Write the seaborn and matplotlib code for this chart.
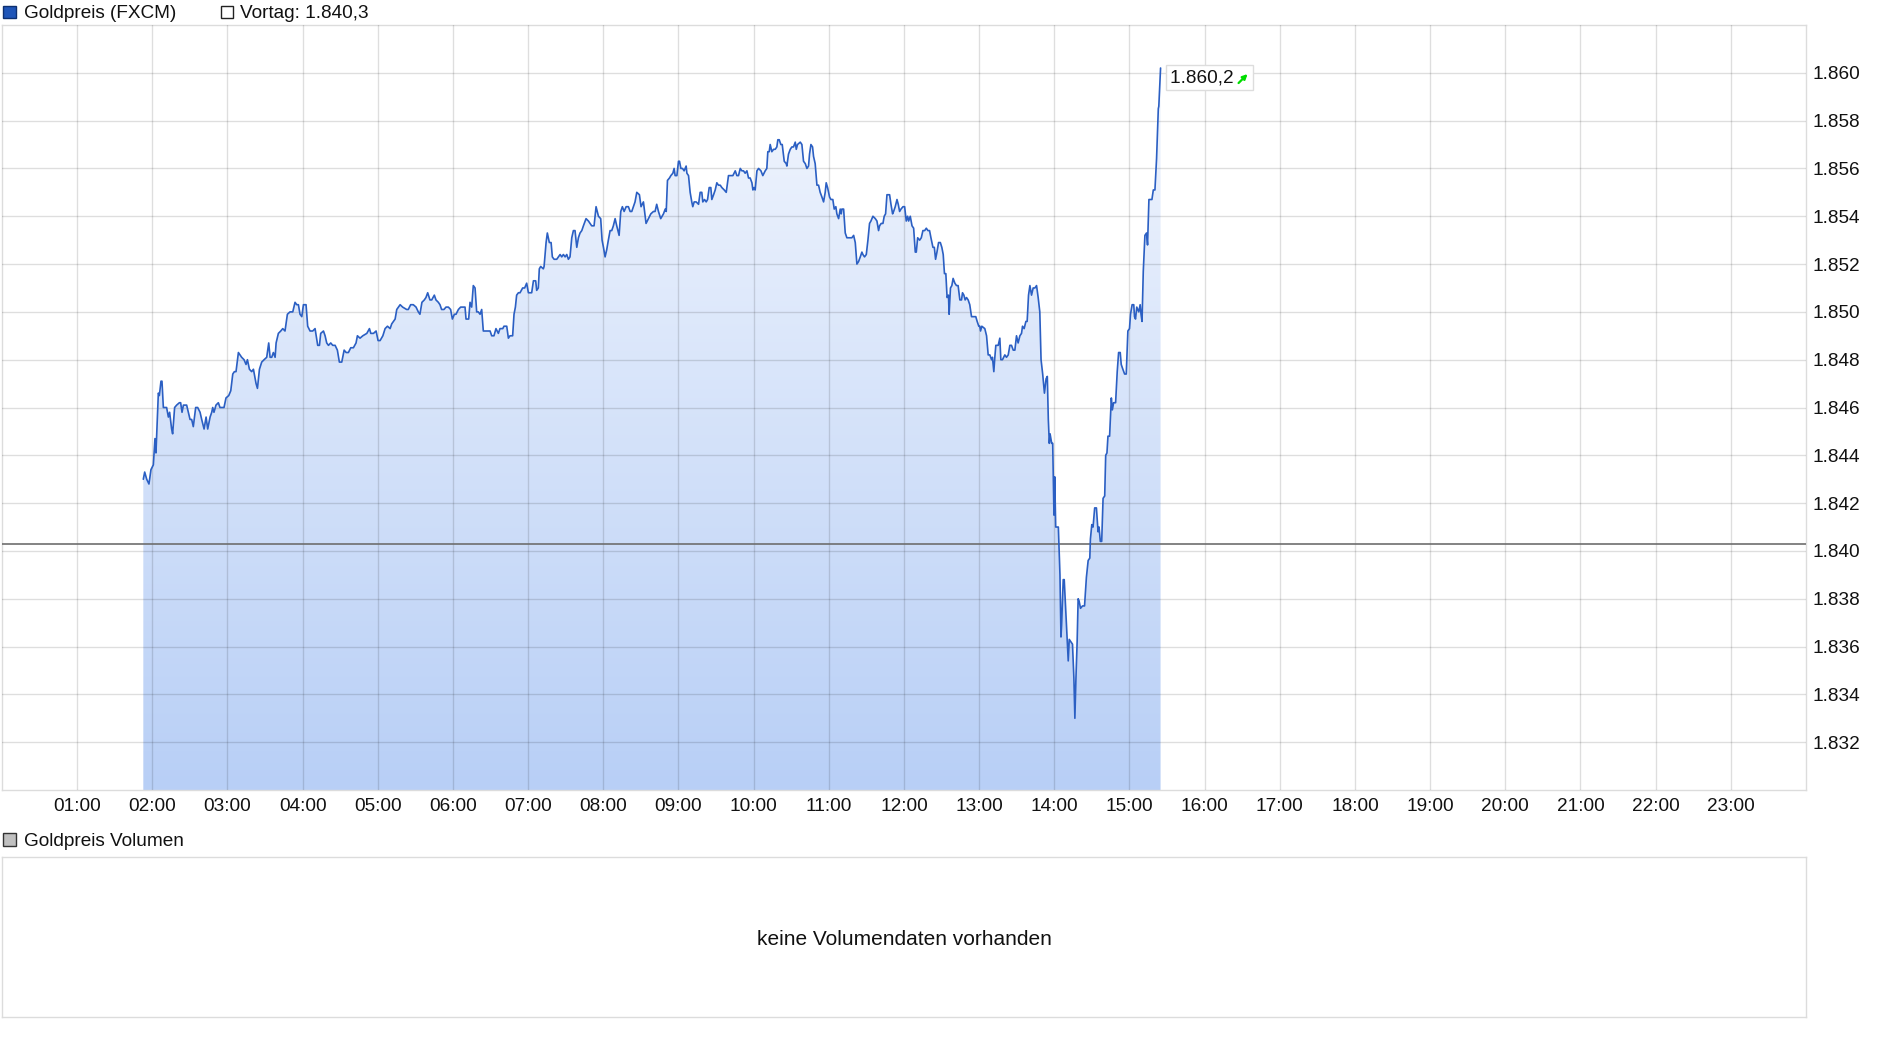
#!/usr/bin/env python3
"""Goldpreis (FXCM) intraday chart with Vortag reference line and empty volume panel."""

import numpy as np
import pandas as pd
import matplotlib
matplotlib.use("Agg")
import matplotlib.pyplot as plt
from matplotlib.patches import Rectangle
from matplotlib.colors import LinearSegmentedColormap
from matplotlib.transforms import offset_copy
import seaborn as sns

# %% Data: minutes after midnight and gold price (USD)
trade_minute = [
    112.8, 113.9, 115.5, 117.3, 118.9, 120.8, 122.1, 122.9, 124.8, 125.6, 126.9, 127.7, 128.8, 131.4,
    132.8, 133.8, 135.4, 136.2, 137.8, 139.4, 141.6, 142.6, 143.7, 144.8, 147.4, 150.1, 151.4, 152.7,
    154.6, 156.2, 158.1, 159.4, 161.3, 162.9, 164.2, 166.1, 167.4, 168.2, 169.2, 170.8, 172.7, 174.0,
    177.2, 178.8, 181.0, 182.6, 184.2, 185.5, 186.8, 188.7, 190.0, 191.3, 193.2, 194.8, 195.9, 197.5,
    199.3, 200.7, 202.8, 203.9, 205.5, 207.3, 209.2, 211.3, 212.9, 214.0, 215.3, 216.6, 218.0, 218.8,
    220.6, 222.5, 224.1, 225.9, 227.8, 229.9, 232.1, 233.9, 235.3, 236.6, 237.9, 239.3, 240.6, 242.7,
    244.0, 245.9, 248.0, 249.9, 252.0, 253.4, 254.4, 256.6, 257.9, 259.2, 260.6, 262.4, 264.0, 265.9,
    267.7, 269.3, 271.2, 273.1, 274.7, 276.5, 278.4, 280.5, 282.6, 283.7, 285.8, 288.0, 291.2, 293.3,
    294.4, 296.5, 298.6, 300.2, 301.8, 304.0, 305.8, 307.7, 309.8, 311.1, 313.8, 315.1, 316.5, 317.8,
    319.8, 323.0, 324.3, 326.2, 328.3, 330.5, 332.3, 333.6, 335.2, 337.1, 338.4, 339.8, 341.6, 343.0,
    345.1, 346.4, 348.3, 349.6, 350.9, 352.8, 354.4, 356.3, 358.1, 359.5, 361.1, 362.4, 364.3, 366.1,
    368.3, 369.6, 370.4, 372.5, 373.6, 374.9, 376.2, 377.6, 378.9, 380.2, 381.6, 382.9, 384.2, 385.6,
    388.2, 389.6, 390.9, 392.7, 394.3, 396.2, 397.5, 399.7, 400.7, 402.9, 404.2, 405.5, 407.6, 408.7,
    409.8, 410.8, 412.2, 413.5, 415.6, 417.2, 418.8, 420.2, 422.8, 424.2, 426.0, 426.8, 428.1, 428.9,
    430.0, 432.1, 432.7, 434.3, 435.3, 436.9, 438.3, 439.3, 440.7, 442.8, 444.1, 445.5, 446.8, 448.1,
    449.5, 450.8, 452.1, 453.4, 454.8, 456.1, 457.4, 458.8, 460.1, 461.4, 462.8, 464.1, 466.2, 468.1,
    469.4, 470.7, 472.6, 474.2, 476.1, 477.9, 479.0, 480.1, 481.4, 482.7, 484.0, 485.4, 486.7, 488.0,
    489.4, 490.7, 492.6, 493.9, 495.2, 496.6, 498.2, 500.0, 501.4, 502.7, 504.0, 505.3, 506.7, 508.8,
    510.1, 512.0, 514.1, 516.0, 517.9, 520.0, 521.3, 522.6, 524.0, 525.8,
    528.0, 529.4, 530.2, 531.2, 532.8, 533.9, 535.5, 536.5, 537.3, 538.7, 540.0, 540.8, 541.9, 543.2,
    544.5, 546.1, 546.7, 548.0, 549.3, 550.6, 551.4, 552.5, 554.1, 556.0, 557.3, 558.6, 559.4, 560.8,
    562.1, 563.2, 564.5, 565.8, 566.6, 568.0, 569.3, 570.6, 571.9, 573.3, 574.6, 576.5, 578.1, 579.9,
    581.8, 583.4, 585.3, 586.6, 587.9, 589.3, 590.6, 591.9, 593.2, 594.6, 595.9, 597.2, 598.6, 599.4,
    600.4, 601.2, 602.6, 603.9, 605.8, 607.3, 609.2, 610.5, 611.3, 612.4, 613.2, 614.5, 615.9, 617.2,
    618.5, 619.3, 620.4, 621.7, 622.8, 624.4, 626.0, 626.5, 627.8, 629.2, 630.5, 631.8, 633.2, 634.0,
    635.0, 637.2, 638.5, 639.8, 641.2, 642.5, 643.8, 644.6, 645.7, 647.0, 647.8, 649.1, 650.5, 651.8,
    653.1, 654.5, 655.8, 657.1, 657.9, 659.0, 660.6, 661.7, 663.2, 664.3, 665.6, 666.4, 667.8, 669.1,
    669.9, 670.4, 671.8, 673.1, 674.4, 676.6, 678.4, 679.8, 681.1, 682.4, 683.7, 685.1, 686.4, 687.2,
    688.5, 689.9, 691.2, 692.5, 693.6, 695.2, 697.1, 698.4, 699.7, 700.5, 701.8, 703.2, 704.2, 705.3,
    706.4, 708.5, 709.6, 710.9, 711.7, 713.0, 714.4, 715.4, 716.5, 717.6, 719.2, 720.5, 721.8, 722.9,
    723.7, 725.0, 726.4, 727.7, 729.0, 729.8, 730.9, 732.5, 733.8, 735.1, 736.5, 737.8, 739.1, 740.4,
    741.5, 743.1, 744.2, 745.2, 746.3, 747.6, 749.0,
    750.2, 751.3, 752.3, 753.4, 754.4, 755.5, 756.0, 757.1, 758.2, 759.2, 760.6, 761.9, 763.2, 764.6,
    765.9, 766.7, 767.8, 768.8, 769.9, 771.2, 772.5, 773.9, 775.7, 777.3, 778.4, 779.7, 780.5, 781.1,
    782.1, 784.5, 785.9, 787.2, 788.5, 789.9, 790.6, 791.7, 792.5, 793.3, 795.2, 796.5, 797.3, 798.6,
    800.5, 801.8, 803.2, 804.5, 805.8, 807.2, 808.5, 809.8, 811.1, 812.5, 813.8, 814.6, 815.9, 817.3,
    818.3, 819.4, 820.5, 821.8, 823.1, 824.5, 825.8, 827.1, 828.4,
    829.4, 830.7, 832.1, 833.4, 834.4, 835.2, 836.0, 836.6, 837.9, 838.7, 839.2, 839.7, 840.3, 841.1,
    843.2, 844.5, 845.3, 845.8, 847.1, 847.9, 849.0, 849.8, 851.1, 851.9, 853.2, 854.5, 855.6, 856.4,
    857.2, 858.2, 859.0, 859.8, 860.9, 862.5, 864.1, 865.6, 867.0, 868.3, 868.8, 869.9, 870.9, 872.2,
    873.6, 874.9, 875.7, 876.7, 877.8, 878.9, 880.2, 881.0, 882.0, 882.8, 884.1, 885.5, 886.3, 887.3,
    888.9, 890.2, 891.3, 892.6, 893.4, 894.7, 896.1, 897.4, 898.7, 900.0, 900.8, 902.1, 903.4, 904.0,
    904.8, 905.8, 907.4, 908.5, 909.2, 910.0,
    911.0, 912.3, 913.6, 914.4, 915.5, 916.8, 917.9, 919.0, 920.3, 921.6, 923.0, 923.4, 924.8,
]
goldpreis = [
    1843.0, 1843.3, 1843.0, 1842.8, 1843.4, 1843.6, 1844.7, 1844.1, 1846.6, 1846.5, 1847.1, 1847.1, 1846.0, 1846.0,
    1845.6, 1845.8, 1845.1, 1844.9, 1846.0, 1846.1, 1846.2, 1846.2, 1845.8, 1846.1, 1846.1, 1845.5, 1845.5, 1845.2,
    1846.0, 1846.0, 1845.8, 1845.5, 1845.1, 1845.6, 1845.1, 1845.6, 1845.8, 1846.0, 1845.8, 1846.1, 1846.2, 1846.0,
    1846.0, 1846.4, 1846.5, 1846.7, 1847.4, 1847.5, 1847.5, 1848.3, 1848.2, 1848.1, 1848.0, 1847.8, 1848.0, 1847.6,
    1847.5, 1847.6, 1847.0, 1846.8, 1847.6, 1847.9, 1848.0, 1848.1, 1848.7, 1848.1, 1848.1, 1848.3, 1848.1, 1848.7,
    1849.1, 1849.2, 1849.3, 1849.2, 1849.9, 1850.0, 1850.0, 1850.4, 1850.3, 1850.3, 1849.9, 1849.8, 1850.3, 1850.3,
    1849.4, 1849.2, 1849.2, 1849.3, 1848.6, 1848.6, 1849.1, 1849.2, 1849.0, 1848.7, 1848.6, 1848.7, 1848.6, 1848.6,
    1848.4, 1847.9, 1847.9, 1848.4, 1848.3, 1848.3, 1848.5, 1848.5, 1848.7, 1849.0, 1848.9, 1849.0, 1849.1, 1849.3,
    1849.1, 1849.1, 1849.2, 1848.8, 1848.8, 1849.0, 1849.3, 1849.4, 1849.3, 1849.5, 1849.7, 1850.1, 1850.2, 1850.3,
    1850.2, 1850.1, 1850.1, 1850.3, 1850.3, 1850.2, 1850.0, 1849.9, 1850.4, 1850.5, 1850.6, 1850.8, 1850.5, 1850.5,
    1850.7, 1850.5, 1850.4, 1850.3, 1850.1, 1850.1, 1850.2, 1850.2, 1850.1, 1849.7, 1849.9, 1849.9, 1850.1, 1850.2,
    1850.2, 1850.2, 1849.7, 1849.7, 1850.4, 1850.2, 1851.1, 1851.0, 1850.0, 1850.0, 1849.9, 1850.1, 1849.2, 1849.2,
    1849.2, 1849.2, 1849.0, 1849.0, 1849.3, 1849.1, 1849.3, 1849.3, 1849.4, 1849.4, 1848.9, 1849.0, 1849.0, 1849.9,
    1850.2, 1850.7, 1850.8, 1850.8, 1851.0, 1851.0, 1851.2, 1850.8, 1850.8, 1851.3, 1851.3, 1850.9, 1851.0, 1851.8,
    1851.9, 1851.8, 1851.9, 1852.9, 1853.3, 1852.9, 1852.9, 1852.3, 1852.2, 1852.2, 1852.3, 1852.4, 1852.3, 1852.4,
    1852.3, 1852.4, 1852.2, 1852.3, 1853.1, 1853.4, 1853.4, 1852.7, 1853.1, 1853.3, 1853.4, 1853.6, 1853.9, 1853.8,
    1853.7, 1853.6, 1853.6, 1854.4, 1854.0, 1853.9, 1853.0, 1852.7, 1852.3, 1852.6, 1853.0, 1853.4, 1853.4, 1853.6,
    1853.9, 1853.6, 1853.2, 1854.2, 1854.4, 1854.2, 1854.4, 1854.4, 1854.2, 1854.2, 1854.4, 1854.6, 1855.0, 1854.9,
    1854.4, 1854.6, 1853.7, 1853.9, 1854.1, 1854.2, 1854.2, 1854.5, 1854.2, 1853.9,
    1854.1, 1854.3, 1854.2, 1855.5, 1855.6, 1855.7, 1855.8, 1856.0, 1855.7, 1855.7, 1856.3, 1856.3, 1856.0, 1856.0,
    1855.9, 1856.1, 1855.8, 1855.7, 1855.0, 1854.6, 1854.4, 1854.6, 1854.6, 1854.5, 1855.0, 1855.0, 1854.6, 1854.7,
    1854.6, 1854.7, 1855.2, 1855.2, 1854.7, 1854.9, 1855.1, 1855.4, 1855.3, 1855.3, 1855.2, 1855.1, 1855.0, 1855.7,
    1855.7, 1855.7, 1855.9, 1855.7, 1855.7, 1856.0, 1855.9, 1855.9, 1855.8, 1855.9, 1855.6, 1855.6, 1855.4, 1855.1,
    1855.2, 1855.1, 1855.9, 1856.0, 1855.9, 1855.7, 1855.9, 1856.0, 1856.7, 1856.7, 1857.0, 1856.7, 1856.8, 1856.8,
    1856.9, 1857.2, 1857.2, 1857.0, 1857.0, 1856.3, 1856.2, 1856.1, 1856.6, 1856.8, 1856.9, 1856.9, 1857.1, 1856.8,
    1857.0, 1857.1, 1857.0, 1856.3, 1856.2, 1856.0, 1856.1, 1856.6, 1857.0, 1856.9, 1856.5, 1856.2, 1855.3, 1855.3,
    1855.0, 1854.8, 1854.6, 1855.0, 1855.4, 1855.2, 1854.8, 1854.7, 1854.7, 1854.3, 1854.4, 1854.1, 1853.9, 1854.3,
    1854.1, 1854.3, 1854.3, 1853.3, 1853.1, 1853.1, 1853.1, 1853.2, 1852.9, 1852.0, 1852.1, 1852.3, 1852.5, 1852.4,
    1852.3, 1852.4, 1853.0, 1853.7, 1853.8, 1854.0, 1853.9, 1853.8, 1853.4, 1853.6, 1853.7, 1853.7, 1854.0, 1854.1,
    1854.9, 1854.9, 1854.5, 1854.1, 1854.2, 1854.4, 1854.7, 1854.5, 1854.2, 1854.3, 1854.4, 1854.4, 1853.8, 1854.0,
    1853.8, 1854.0, 1853.6, 1853.5, 1852.5, 1852.5, 1853.1, 1853.0, 1853.1, 1853.4, 1853.4, 1853.5, 1853.4, 1853.4,
    1853.1, 1852.7, 1852.7, 1852.2, 1852.5, 1852.9, 1852.9,
    1852.7, 1852.4, 1851.6, 1851.6, 1850.6, 1850.7, 1849.9, 1851.0, 1851.1, 1851.4, 1851.2, 1851.1, 1851.1, 1850.5,
    1850.5, 1850.8, 1850.7, 1850.5, 1850.6, 1850.5, 1850.3, 1849.8, 1849.8, 1849.8, 1849.6, 1849.4, 1849.4, 1849.2,
    1849.4, 1849.3, 1849.0, 1848.2, 1848.2, 1848.0, 1848.1, 1847.5, 1848.1, 1848.6, 1848.6, 1848.9, 1848.0, 1848.0,
    1848.2, 1848.1, 1848.2, 1848.6, 1848.6, 1848.4, 1848.4, 1849.0, 1848.7, 1849.0, 1849.1, 1849.4, 1849.3, 1849.6,
    1849.6, 1850.7, 1851.1, 1850.7, 1851.0, 1851.0, 1851.1, 1850.6, 1850.0,
    1848.0, 1847.4, 1846.6, 1847.2, 1847.3, 1845.5, 1844.5, 1844.9, 1844.5, 1844.5, 1843.1, 1841.5, 1843.1, 1841.0,
    1841.0, 1839.0, 1836.4, 1836.9, 1838.8, 1838.8, 1837.6, 1836.7, 1835.4, 1836.3, 1836.2, 1836.1, 1834.7, 1833.0,
    1834.6, 1836.2, 1838.0, 1837.9, 1837.6, 1837.7, 1837.7, 1838.9, 1839.6, 1839.7, 1840.5, 1841.1, 1841.0, 1841.8,
    1841.8, 1840.8, 1841.0, 1840.4, 1840.4, 1842.2, 1842.3, 1844.0, 1844.1, 1844.8, 1844.8, 1846.4, 1845.9, 1846.2,
    1846.2, 1847.5, 1848.3, 1848.3, 1847.8, 1847.6, 1847.4, 1847.4, 1849.2, 1849.3, 1849.9, 1850.3, 1850.3, 1849.8,
    1849.7, 1850.2, 1850.0, 1850.3, 1849.9, 1849.6,
    1851.7, 1853.2, 1853.3, 1852.8, 1854.7, 1854.7, 1854.7, 1855.1, 1855.1, 1856.4, 1858.5, 1858.6, 1860.2,
]
vortag = 1840.3
hour_ticks = list(range(1, 24))
price_ticks = list(range(1832, 1861, 2))


def de_num(v, decimals=0):
    s = f"{v:,.{decimals}f}"
    return s.replace(",", "#").replace(".", ",").replace("#", ".")


# %% Setup
sns.set_theme(style="whitegrid")
plt.rcParams["font.family"] = ["Liberation Sans", "DejaVu Sans"]
FS = 13.7
W, H = 1880, 1037


def fig_box(l, t, r, b):
    return [l / W, 1 - b / H, (r - l) / W, (b - t) / H]


df = pd.DataFrame({"minute": trade_minute, "price": goldpreis})
df["hour"] = df["minute"] / 60

fig = plt.figure(figsize=(W / 100, H / 100), dpi=100, facecolor="white")

# %% Price panel
ax = fig.add_axes(fig_box(2, 25, 1806, 790))
ax.set_facecolor("white")

poly = ax.fill_between(df["hour"], df["price"], 1830, color="none", lw=0)
cmap = LinearSegmentedColormap.from_list("gold_fill", ["#b8cff6", "#f5f8fe"])
img = ax.imshow(np.linspace(0, 1, 256).reshape(-1, 1), extent=[0, 24, 1830, 1862],
                origin="lower", aspect="auto", cmap=cmap, zorder=1)
img.set_clip_path(poly.get_paths()[0], transform=ax.transData)

sns.lineplot(data=df, x="hour", y="price", estimator=None, sort=False,
             color="#2b5fc3", lw=1.2, ax=ax, zorder=3)
ax.axhline(vortag, color="#6e6e6e", lw=1.2, zorder=2.8)

ax.set_xlim(0, 24)
ax.set_ylim(1830, 1862)
ax.set_xticks(hour_ticks)
ax.set_xticklabels([f"{h:02d}:00" for h in hour_ticks])
ax.yaxis.tick_right()
ax.set_yticks(price_ticks)
ax.set_yticklabels([de_num(p) for p in price_ticks])
ax.set_xlabel("")
ax.set_ylabel("")
ax.tick_params(length=0, labelsize=FS, colors="#111111")
ax.tick_params(axis="x", pad=5.5)
ax.tick_params(axis="y", pad=4.5)
ax.set_axisbelow(False)
ax.grid(True, color="black", alpha=0.13, lw=1)
for sp in ax.spines.values():
    sp.set_color("#dcdcdc")
    sp.set_linewidth(1)

# last price label with green up arrow
last_h, last_p = df["hour"].iloc[-1], df["price"].iloc[-1]
ax.annotate(de_num(last_p, 1) + "   ", xy=(last_h, last_p), xytext=(9, -9.5),
            textcoords="offset pixels", ha="left", va="center", fontsize=FS, color="#111111",
            bbox=dict(boxstyle="square,pad=0.2", fc="white", ec="#dddddd", lw=1), zorder=5)
tip = offset_copy(ax.transData, fig=fig, x=87, y=-6, units="dots")
tail = offset_copy(ax.transData, fig=fig, x=78, y=-15, units="dots")
ax.annotate("", xy=(last_h, last_p), xycoords=tip, xytext=(last_h, last_p), textcoords=tail,
            arrowprops=dict(arrowstyle="-|>", color="#00dd00", lw=1.6, mutation_scale=7,
                            shrinkA=0, shrinkB=0), zorder=6)

# %% Legend row
fig.add_artist(Rectangle((3 / W, 1 - 18 / H), 13 / W, 12 / H, transform=fig.transFigure,
                         fc="#1f55b8", ec="#0d2f70", lw=1))
fig.text(24 / W, 1 - 18.3 / H, "Goldpreis (FXCM)", fontsize=FS, va="baseline", color="#111111")
fig.add_artist(Rectangle((221 / W, 1 - 18 / H), 12 / W, 12 / H, transform=fig.transFigure,
                         fc="white", ec="#222222", lw=1))
fig.text(240.5 / W, 1 - 18.3 / H, f"Vortag: {de_num(vortag, 1)}", fontsize=FS,
         va="baseline", color="#111111")

# %% Volume panel
fig.add_artist(Rectangle((3 / W, 1 - 846 / H), 13 / W, 13 / H, transform=fig.transFigure,
                         fc="#c0c0c0", ec="#333333", lw=1))
fig.text(24 / W, 1 - 846 / H, "Goldpreis Volumen", fontsize=FS, va="baseline", color="#111111")

vax = fig.add_axes(fig_box(2, 857, 1806, 1017))
vax.set_facecolor("white")
vax.grid(False)
vax.set_xticks([])
vax.set_yticks([])
for sp in vax.spines.values():
    sp.set_color("#dcdcdc")
    sp.set_linewidth(1)
vax.text(0.5, 0.485, "keine Volumendaten vorhanden", transform=vax.transAxes,
         ha="center", va="center", fontsize=15, color="#111111")

fig.savefig("out.png", dpi=100, facecolor="white")
